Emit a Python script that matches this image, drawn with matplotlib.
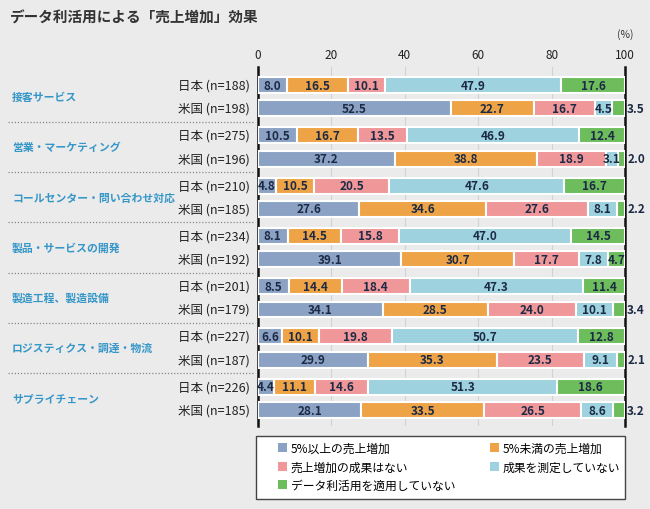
import matplotlib
matplotlib.use("Agg")
from matplotlib import pyplot as plt
from matplotlib.lines import Line2D
from matplotlib.patches import Rectangle

plt.rcParams["font.family"] = ["Noto Sans CJK JP", "DejaVu Sans"]

categories = [
    "接客サービス",
    "営業・マーケティング",
    "コールセンター・問い合わせ対応",
    "製品・サービスの開発",
    "製造工程、製造設備",
    "ロジスティクス・調達・物流",
    "サプライチェーン",
]
jp_n = [188, 275, 210, 234, 201, 227, 226]
us_n = [198, 196, 185, 192, 179, 187, 185]

series_names = [
    "5%以上の売上増加",
    "5%未満の売上増加",
    "売上増加の成果はない",
    "成果を測定していない",
    "データ利活用を適用していない",
]
jp_values = [
    [8.0, 16.5, 10.1, 47.9, 17.6],
    [10.5, 16.7, 13.5, 46.9, 12.4],
    [4.8, 10.5, 20.5, 47.6, 16.7],
    [8.1, 14.5, 15.8, 47.0, 14.5],
    [8.5, 14.4, 18.4, 47.3, 11.4],
    [6.6, 10.1, 19.8, 50.7, 12.8],
    [4.4, 11.1, 14.6, 51.3, 18.6],
]
us_values = [
    [52.5, 22.7, 16.7, 4.5, 3.5],
    [37.2, 38.8, 18.9, 3.1, 2.0],
    [27.6, 34.6, 27.6, 8.1, 2.2],
    [39.1, 30.7, 17.7, 7.8, 4.7],
    [34.1, 28.5, 24.0, 10.1, 3.4],
    [29.9, 35.3, 23.5, 9.1, 2.1],
    [28.1, 33.5, 26.5, 8.6, 3.2],
]
xticks = [0, 20, 40, 60, 80, 100]

colors = ["#8ba2c4", "#eea446", "#ef9799", "#9dd2de", "#6dbd5c"]
bg = "#ebebeb"
text_dark = "#1d2a45"
cat_color = "#3596c8"

pitch = 2.15
bar_h = 0.68

fig = plt.figure(figsize=(6.5, 5.1), dpi=100, facecolor=bg)
ax = fig.add_axes([258 / 650, 1 - 427 / 510, 367 / 650, 359 / 510])
ax.set_facecolor(bg)

rows = []
for i in range(len(categories)):
    rows.append((i * pitch, jp_values[i], f"日本 (n={jp_n[i]})"))
    rows.append((i * pitch + 1, us_values[i], f"米国 (n={us_n[i]})"))

for y, vals, lab in rows:
    left = 0
    for k, v in enumerate(vals):
        ax.barh(y, v, left=left, height=bar_h, color=colors[k],
                edgecolor="white", linewidth=1.5, zorder=3,
                label=series_names[k] if y == 0 else None)
        # tiny last segments get their label outside the 100% line
        if k == len(vals) - 1 and v < 4:
            ax.text(100.6, y, f"{v:.1f}", ha="left", va="center",
                    fontsize=8.5, fontweight="bold", color=text_dark, zorder=4)
        else:
            ax.text(left + v / 2, y, f"{v:.1f}", ha="center", va="center",
                    fontsize=8.5, fontweight="bold", color=text_dark, zorder=4)
        left += v
    ax.text(-2.2, y, lab, ha="right", va="center", fontsize=9, color="#222222")

ax.set_xlim(0, 100)
ax.set_ylim(13.9 + 0.68, -0.77)
ax.xaxis.tick_top()
ax.set_xticks(xticks)
ax.set_xticklabels([str(t) for t in xticks], fontsize=8.5, color="#222222")
ax.tick_params(axis="x", length=0, pad=4)
ax.set_yticks([])
for t in xticks[1:-1]:
    ax.axvline(t, color="#d2d2d2", linewidth=0.8, zorder=1)
for s in ["top", "bottom"]:
    ax.spines[s].set_visible(False)
for s in ["left", "right"]:
    ax.spines[s].set_linewidth(1.8)
    ax.spines[s].set_color("#111111")
ax.text(100, -1.95, "(%)", ha="center", va="bottom", fontsize=7.5, color="#333333")

# category labels and dotted separators
for i, cat in enumerate(categories):
    yc = i * pitch + 0.5
    ax.text(-67, yc, cat, ha="left", va="center", fontsize=7.8,
            color=cat_color, fontweight="bold", clip_on=False)
    if i < len(categories) - 1:
        ysep = (i * pitch + 1 + (i + 1) * pitch) / 2
        ax.add_line(Line2D([-68, -0.8], [ysep, ysep], color="#888888",
                           linewidth=0.9, linestyle=(0, (1, 1.5)), clip_on=False))

fig.text(10 / 650, 1 - 18 / 510, "データ利活用による「売上増加」効果", ha="left",
         va="center", fontsize=10.5, fontweight="bold", color="#333333")

# legend box
fig.patches.append(Rectangle((256 / 650, 1 - 500 / 510), 369 / 650, 63 / 510,
                             transform=fig.transFigure, facecolor="white",
                             edgecolor="#444444", linewidth=1.0, zorder=0))
handles, labels = ax.get_legend_handles_labels()
order = [0, 2, 4, 1, 3]
leg = fig.legend([handles[j] for j in order], [labels[j] for j in order],
                 ncol=2, loc="upper left",
                 bbox_to_anchor=(278 / 650, 1 - 497 / 510, 342 / 650, 54 / 510),
                 mode="expand", fontsize=8.5, frameon=False,
                 handlelength=0.8, handleheight=0.8, handletextpad=0.3,
                 labelspacing=0.45, borderpad=0, borderaxespad=0)
for h in leg.legend_handles:
    h.set_edgecolor("none")

fig.savefig("out.png", dpi=100, facecolor=bg)
